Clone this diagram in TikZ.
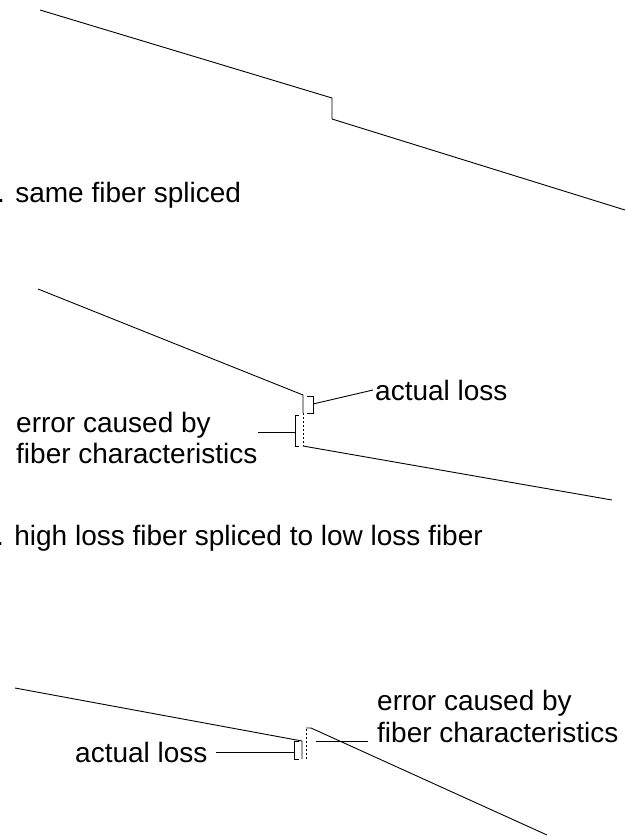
\documentclass[tikz,border=0pt]{standalone}
\usepackage{fontspec}
\setmainfont{Liberation Sans}
\begin{document}
\begin{tikzpicture}[x=1pt,y=-1pt,
  trace/.style={line width=0.9pt, line join=miter},
  dotln/.style={line width=0.9pt, dash pattern=on 2pt off 2pt},
  lbl/.style={inner sep=0pt, anchor=base west, font=\fontsize{28}{32}\selectfont}]
\useasboundingbox (0,0) rectangle (625,836);
% ---------- panel 1 ----------
\coordinate (a1) at (40,10);
\coordinate (a2) at (332,98);
\coordinate (a3) at (332,119);
\coordinate (a4) at (625,210);
\draw[trace] (a1) -- (a2) -- (a3) -- (a4);
\node[lbl] (cap1) at (-3,202) {. same fiber spliced};
% ---------- panel 2 ----------
\coordinate (b1) at (38,289);
\coordinate (b2) at (303,395);
\coordinate (b3) at (303,413);
\coordinate (b4) at (303,446);
\coordinate (b5) at (612,500);
\draw[trace] (b1) -- (b2) -- (b3);
\draw[dotln] (b3) -- (b4);
\draw[trace] (b4) -- (b5);
% actual loss bracket
\coordinate (bl1) at (307,396);
\coordinate (bl2) at (313,396);
\coordinate (bl3) at (313,413);
\coordinate (bl4) at (307,413);
\coordinate (blm) at (313,404);
\draw[trace] (bl1) -- (bl2) -- (bl3) -- (bl4);
\node[lbl] (al2) at (375,400) {actual loss};
\draw[trace] (blm) -- ([xshift=-2pt]al2.west);
% error bracket
\coordinate (be1) at (299,415);
\coordinate (be2) at (295,415);
\coordinate (be3) at (295,446);
\coordinate (be4) at (299,446);
\coordinate (bem) at (295,432);
\coordinate (bec) at (258,432);
\draw[trace] (be1) -- (be2) -- (be3) -- (be4);
\draw[trace] (bec) -- (bem);
\node[lbl] (er2a) at (16,432) {error caused by};
\node[lbl] (er2b) at (16,463) {fiber characteristics};
\node[lbl] (cap2) at (-4,545) {. high loss fiber spliced to low loss fiber};
% ---------- panel 3 ----------
\coordinate (c1) at (15,688);
\coordinate (c2) at (302,741);
\coordinate (c3) at (302,759);
\coordinate (c4) at (306,759);
\coordinate (c5) at (306,728);
\coordinate (c6) at (311,728);
\coordinate (c7) at (547,835);
\draw[trace] (c1) -- (c2) -- (c3);
\draw[dotln] (c4) -- (c5);
\draw[trace] (c5) -- (c6) -- (c7);
% actual loss bracket
\coordinate (cl1) at (299,741);
\coordinate (cl2) at (294,741);
\coordinate (cl3) at (294,759);
\coordinate (cl4) at (299,759);
\coordinate (clm) at (294,752);
\draw[trace] (cl1) -- (cl2) -- (cl3) -- (cl4);
\node[lbl] (al3) at (75,762) {actual loss};
\coordinate (clc) at (216,752);
\draw[trace] (clc) -- (clm);
% error label
\coordinate (ce1) at (316,741);
\coordinate (ce2) at (368,741);
\draw[trace] (ce1) -- (ce2);
\node[lbl] (er3a) at (377,710) {error caused by};
\node[lbl] (er3b) at (377,742) {fiber characteristics};
\end{tikzpicture}
\end{document}
